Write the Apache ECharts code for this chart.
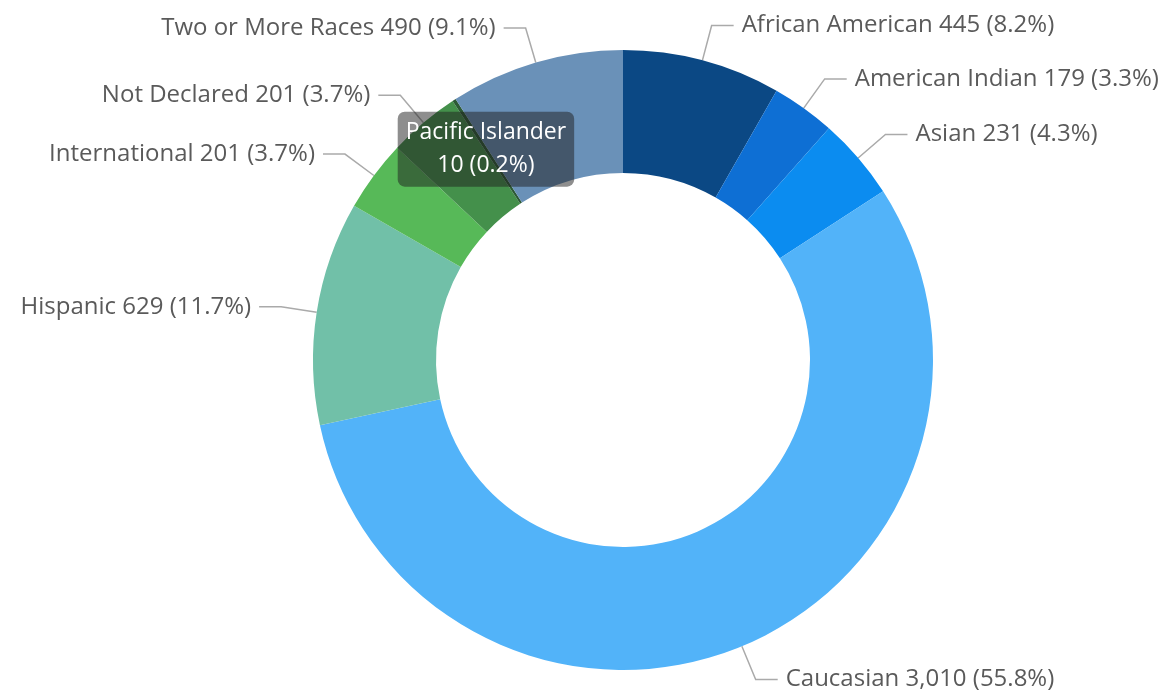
<!DOCTYPE html>
<html>
<head>
<meta charset="utf-8">
<script src="https://cdn.jsdelivr.net/npm/echarts@6/dist/echarts.min.js"></script>
<style>
html,body{margin:0;padding:0;background:#fff;}
#c{width:1171px;height:697px;}
</style>
</head>
<body>
<div id="c"></div>
<script>
const categories = ["African American","American Indian","Asian","Caucasian","Hispanic","International","Not Declared","Pacific Islander","Two or More Races"];
const values = [445,179,231,3010,629,201,201,10,490];
const colors = ["#0b4884","#0e6fd4","#0b8cf0","#52b3f9","#71c0a8","#57b958","#44904b","#2c5a35","#6a91b8"];

const total = values.reduce((a,b)=>a+b,0);
const fmtNum = v => v.toLocaleString('en-US');
const fmtPct = v => (v/total*100).toFixed(1) + '%';

const data = categories.map((name,i)=>{
  const d = {name, value: values[i], itemStyle:{color: colors[i]}};
  if (name === "Pacific Islander") {
    d.label = {
      position: 'inside',
      formatter: p => p.name + '\n' + fmtNum(p.value) + ' (' + fmtPct(p.value) + ')',
      color: '#fff',
      fontSize: 23,
      lineHeight: 33,
      backgroundColor: 'rgba(30,30,30,0.5)',
      borderRadius: 7,
      padding: [5, 8, 4, 8]
    };
    d.labelLine = {show:false};
  }
  return d;
});

const chart = echarts.init(document.getElementById('c'));
chart.setOption({
  animation: false,
  textStyle: {fontFamily: '"Open Sans", "Noto Sans", sans-serif'},
  series: [{
    type: 'pie',
    center: [623, 360],
    radius: [187, 310],
    startAngle: 90,
    clockwise: true,
    avoidLabelOverlap: true,
    data: data,
    itemStyle: {borderWidth: 0},
    label: {
      show: true,
      fontFamily: '"Open Sans", "Noto Sans", sans-serif',
      fontSize: 24,
      color: '#5a5a5a',
      distanceToLabelLine: 8,
      formatter: p => p.name + ' ' + fmtNum(p.value) + ' (' + fmtPct(p.value) + ')'
    },
    labelLine: {
      show: true,
      length: 36,
      length2: 22,
      lineStyle: {color: '#aaaaaa', width: 1.5}
    }
  }]
});
</script>
</body>
</html>
